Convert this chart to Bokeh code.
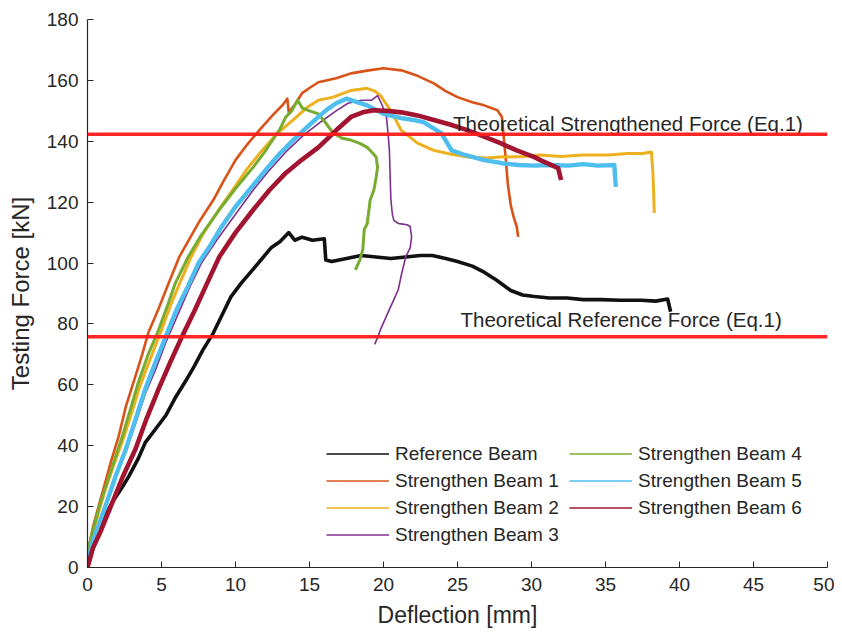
from bokeh.plotting import figure
from bokeh.models import Range1d, FixedTicker, Span, Legend, LegendItem
from bokeh.embed import file_html
from bokeh.resources import INLINE
from bokeh.core.properties import value

# ---------------- data ----------------
ref_x = [0, 0.3, 0.55, 1.0, 1.7, 2.3, 2.8, 3.4, 3.9, 4.6, 5.3, 5.9, 6.6, 7.2, 7.8, 8.5, 9.1, 9.7, 10.4, 11.2,
         11.8, 12.4, 13.0, 13.6, 14.0, 14.5, 15.2, 16.0, 16.1, 16.5, 17.5, 18.5, 19.5, 20.5, 21.5, 22.5, 23.3,
         24.2, 25.0, 26.0, 26.8, 27.6, 28.6, 29.4, 30.2, 31.2, 32.4, 33.5, 34.7, 36.0, 37.4, 38.4, 39.2, 39.4]
ref_y = [0, 5, 9.5, 15, 21.6, 26, 30, 35.5, 41, 45.5, 50, 55.5, 61, 66, 71.5, 77, 83, 89, 93.5, 98,
         101.5, 105, 107, 110, 107.5, 108.5, 107.5, 108, 101, 100.5, 101.5, 102.5, 102, 101.5, 102, 102.5, 102.5,
         101.5, 100.5, 99, 97, 94.5, 91, 89.5, 89, 88.5, 88.5, 88, 88, 87.8, 87.8, 87.5, 88.2, 84]

s1_x = [0, 0.35, 0.8, 1.2, 1.6, 2.1, 2.6, 3.25, 3.7, 4.1, 4.8, 5.5, 6.2, 6.9, 7.6, 8.5, 9.2, 10, 10.8, 11.6,
        12.5, 13.2, 13.5, 13.6, 14.0, 14.5, 15.0, 15.6, 16.8, 17.8, 18.9, 20, 21.2, 22.3, 23.4, 24.2, 25,
        26, 26.8, 27.7, 28.0, 28.1, 28.3, 28.4, 28.6, 28.8, 29.0, 29.1]
s1_y = [4, 13, 21, 28, 35, 43, 53, 63, 70, 77, 85, 93.6, 102, 108, 114, 120.7, 127, 133.8, 139, 143.6,
        148.5, 152, 154, 149.5, 152, 155.8, 157.5, 159.4, 160.7, 162.3, 163.2, 164, 163.3, 161.5, 159, 156.5, 154.5,
        152.8, 151.8, 150.2, 148, 142.7, 132, 126, 119, 115, 112, 108.6]

s2_x = [0, 0.35, 0.8, 1.2, 1.8, 2.4, 3.0, 3.5, 4.2, 5.0, 5.6, 6.2, 7.0, 7.8, 8.8, 9.8, 10.8, 11.8, 12.8,
        13.9, 14.8, 15.6, 16.6, 17.8, 18.9, 19.4, 19.8, 20.5, 21.2, 22.3, 23.4, 24.5, 25.7, 27.0, 27.9, 29.5,
        30.6, 32.0, 33.5, 35.2, 36.5, 37.5, 38.1, 38.2, 38.3]
s2_y = [3, 11, 19, 25.5, 34, 42, 51, 59, 68, 78, 86, 93, 102, 109.5, 117, 124, 131, 137, 142.5,
        147, 151, 153.5, 154.5, 156.7, 157.4, 156.5, 155, 150, 143.6, 139.4, 137, 135.8, 134.8, 134.5, 134.8, 135,
        135.5, 135, 135.5, 135.5, 136, 136, 136.5, 130, 116.5]

s3_x = [0, 0.4, 0.9, 1.3, 1.9, 2.6, 3.3, 3.9, 4.6, 5.3, 6.1, 6.9, 7.7, 8.8, 10, 11.2, 12.2, 13.4, 14.6,
        15.8, 16.8, 17.6, 18.5, 19.2, 19.6, 19.9, 20.2, 20.3, 20.4, 20.45, 20.5, 20.6, 20.7, 21.0, 21.3, 21.6,
        21.8, 21.9, 21.8, 21.5, 21.2, 21.0, 20.7, 20.4, 20.1, 19.8, 19.6, 19.4]
s3_y = [2, 9, 16, 22, 30, 38, 48, 57, 65, 74, 83, 92, 100, 108, 116, 124, 130, 136.5, 142,
        146.5, 150, 152.5, 153.5, 153.5, 155, 152, 148, 143, 137, 128, 120.7, 116, 114, 113, 112.8, 112.6,
        112, 108.6, 105, 102, 96, 91.3, 88, 84.8, 81.5, 78.2, 75.5, 73.3]

s4_x = [0, 0.35, 0.8, 1.2, 1.8, 2.35, 2.9, 3.45, 4.1, 4.8, 5.4, 5.95, 6.8, 7.6, 8.9, 10, 11.2, 11.9, 12.5,
        13.0, 13.4, 13.8, 14.2, 14.5, 15.0, 15.6, 16.1, 16.6, 17.2, 17.8, 18.4, 18.9, 19.3, 19.5, 19.6, 19.5,
        19.35, 19.1, 18.9, 18.7, 18.6, 18.4, 18.1]
s4_y = [5, 12, 20, 26, 35, 43, 52, 61, 70, 78, 86, 93.6, 102, 108.5, 117.5, 124.5, 131.5, 136, 140.4,
        144, 148, 150, 153.5, 151, 150, 149, 146, 142.7, 141, 140.4, 139.3, 138, 136, 134.8, 131.5, 128,
        124, 120.7, 113, 111, 104.4, 101, 97.8]

s5_x = [0, 0.35, 0.8, 1.2, 1.9, 2.6, 3.2, 3.9, 4.6, 5.3, 6.0, 6.8, 7.5, 8.2, 9.0, 10, 11.1, 12.2, 13.0,
        13.9, 14.8, 15.6, 16.2, 16.8, 17.5, 17.8, 18.9, 20, 21.2, 22.0, 22.7, 23.3, 23.9, 24.3, 24.6, 25.5,
        26.8, 28.0, 29.1, 30.2, 31.3, 32.5, 33.5, 34.5, 35.6, 35.65, 35.7]
s5_y = [2, 8.5, 14.5, 20, 30, 39, 48, 58.6, 67.5, 76, 84.5, 92.5, 100, 105, 111.5, 118.5, 125, 131.5, 136,
        140.4, 144.5, 148, 150.5, 152.5, 154, 153.5, 151.8, 149, 147.6, 147, 146.3, 144.5, 142.7, 139.5, 137, 135.5,
        133.8, 132.8, 132.2, 132, 132.2, 132, 132.5, 132, 132.2, 128, 125]

s6_x = [0, 0.35, 0.9, 1.7, 2.4, 3.25, 4.0, 4.8, 5.6, 6.4, 7.2, 8.0, 8.9, 10, 11.2, 12.3, 13.4, 14.5, 15.6,
        16.8, 17.8, 18.6, 19.35, 20.2, 21.2, 22.3, 23.4, 24.5, 25.7, 26.8, 27.9, 29.0, 30.2, 30.6, 31.2, 31.8, 32.0]
s6_y = [0, 6.2, 12, 21.6, 30, 39, 49, 58.6, 67.5, 76, 84, 92.5, 102, 110, 117.5, 124, 129.6, 134, 138,
        143.6, 148, 149.5, 150.2, 150, 149.5, 148.5, 147, 145.5, 143.6, 141.5, 139.4, 137, 134.8, 133.8, 132.5, 131.2, 127.3]

series_names = ["Reference Beam", "Strengthen Beam 1", "Strengthen Beam 2", "Strengthen Beam 3",
                "Strengthen Beam 4", "Strengthen Beam 5", "Strengthen Beam 6"]
series_x = [ref_x, s1_x, s2_x, s3_x, s4_x, s5_x, s6_x]
series_y = [ref_y, s1_y, s2_y, s3_y, s4_y, s5_y, s6_y]

theory_forces = [142.3, 75.8]
theory_labels = ["Theoretical Strengthened Force (Eq.1)", "Theoretical Reference Force (Eq.1)"]

x_ticks = [0, 5, 10, 15, 20, 25, 30, 35, 40, 45, 50]
y_ticks = [0, 20, 40, 60, 80, 100, 120, 140, 160, 180]

# ---------------- styles ----------------
colors = ["#111111", "#D95319", "#EDB120", "#7E2F8E", "#77AC30", "#4DBEEE", "#A2142F"]
widths = [3.6, 2.6, 3.0, 1.6, 3.0, 4.4, 4.6]
FONT = "Liberation Sans"
TXT = "#262626"

p = figure(width=834, height=630, output_backend="svg", toolbar_location=None,
           x_range=Range1d(0, 50), y_range=Range1d(0, 180),
           min_border_left=87, min_border_right=7, min_border_top=19, min_border_bottom=62)
p.outline_line_color = None
p.grid.visible = False

for ax in (p.xaxis[0], p.yaxis[0]):
    ax.axis_line_color = TXT
    ax.axis_line_width = 1.2
    ax.major_tick_line_color = TXT
    ax.major_tick_in = 6
    ax.major_tick_out = 0
    ax.minor_tick_line_color = None
    ax.major_label_text_font = FONT
    ax.major_label_text_font_size = "19px"
    ax.major_label_text_color = TXT
    ax.axis_label_text_font = FONT
    ax.axis_label_text_font_style = "normal"
    ax.axis_label_text_color = TXT

p.xaxis.ticker = FixedTicker(ticks=x_ticks)
p.yaxis.ticker = FixedTicker(ticks=y_ticks)
p.xaxis.axis_label = "Deflection [mm]"
p.yaxis.axis_label = "Testing Force [kN]"
p.xaxis.axis_label_text_font_size = "23px"
p.yaxis.axis_label_text_font_size = "24px"
p.xaxis.major_label_standoff = 10
p.yaxis.major_label_standoff = 9
p.xaxis.axis_label_standoff = 8
p.yaxis.axis_label_standoff = 10

# curves
for xs, ys, c, w in zip(series_x, series_y, colors, widths):
    p.line(xs, ys, line_color=c, line_width=w, line_join="round")

# theoretical lines
for f in theory_forces:
    p.add_layout(Span(location=f, dimension="width", line_color="#FF1A1A", line_width=3.5, line_alpha=0.95))

p.text(x=[24.7, 25.2], y=[theory_forces[0] + 3.7, theory_forces[1] + 5.6], text=theory_labels,
       text_font=value(FONT), text_font_size="20.5px", text_color=TXT,
       text_baseline="alphabetic", text_align="left")

# legend: thin sample lines from renderers whose points lie outside the visible range
dummies = []
for c in colors:
    dummies.append(p.line(x=[-10, -9], y=[-10, -10], line_color=c, line_width=1.6))

items1 = [LegendItem(label=series_names[i], renderers=[dummies[i]]) for i in range(4)]
items2 = [LegendItem(label=series_names[i], renderers=[dummies[i]]) for i in range(4, 7)]

for items, loc in ((items1, (239, 19)), (items2, (482, 46))):
    lg = Legend(items=items, location=loc, padding=0, margin=0, spacing=0,
                glyph_width=63, glyph_height=27, label_height=27, label_standoff=6,
                label_text_font=FONT, label_text_font_size="19px", label_text_color=TXT,
                border_line_color=None, background_fill_alpha=0)
    p.add_layout(lg)

open("out.html", "w").write(file_html(p, INLINE))
